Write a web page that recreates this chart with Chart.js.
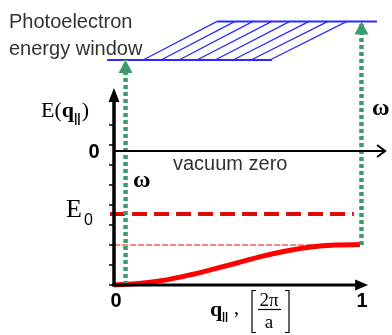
<!DOCTYPE html>
<html>
<head>
<meta charset="utf-8">
<script src="https://cdn.jsdelivr.net/npm/chart.js@4"></script>
<style>
  html, body { margin: 0; padding: 0; background: #fff; }
  #wrap { width: 392px; height: 335px; position: relative; }
</style>
</head>
<body>
<div id="wrap"><canvas id="chart"></canvas></div>
<script>
// energies: vacuum zero = 0, one unit = one y-axis tick step
const bandQ = [0, 0.1, 0.2, 0.3, 0.4, 0.5, 0.6, 0.7, 0.8, 0.9, 1.0]
const bandE = [-6.7, -6.62, -6.47, -6.22, -5.92, -5.6, -5.27, -5.0, -4.8, -4.7, -4.68]
const vacuumZero = 0
const e0Level = -3.15
const bandTop = -4.7
const bandBottom = -6.7
const windowLow = 4.55
const windowHigh = 6.48
const windowLowQ = [-0.028, 0.642]
const windowHighQ = [0.419, 1.069]
const hatchLowQ = [0.118, 0.191, 0.264, 0.337, 0.411, 0.484, 0.557, 0.634]
const hatchHighQ = [0.419, 0.492, 0.565, 0.642, 0.715, 0.793, 0.870, 0.947]
const photonQ = [0.047, 1.006]
const photonFrom = [bandBottom, bandTop]
const photonTo = [windowLow, windowHigh]
const yTicks = [-6.7, -5.7, -4.7, -3.7, -2.7, -1.7, -0.7, 0.3, 1.3]
const xTicks = [0, 1]
const xTickLabels = ["0", "1"]

const green = "#3a9c6c"
const blue = "#2a2aff"

const line = (pts, color, width, dash) => ({
  data: pts,
  borderColor: color,
  borderWidth: width,
  borderDash: dash || [],
  borderCapStyle: "butt",
  pointRadius: 0,
  fill: false,
  tension: 0
})

const datasets = []
// photon arrows (on top)
photonQ.forEach((q, i) => {
  datasets.push(line([{ x: q, y: photonFrom[i] }, { x: q, y: photonTo[i] }], green, 4.5, [4, 3]))
})
// band dispersion
const band = line(bandQ.map((q, i) => ({ x: q, y: bandE[i] })), "#ff0000", 5)
band.tension = 0.4
band.cubicInterpolationMode = "monotone"
datasets.push(band)
// E0 level and band top
datasets.push(line([{ x: -0.016, y: e0Level }, { x: 0.975, y: e0Level }], "#dd0a0a", 4, [15, 7]))
datasets.push(line([{ x: 0, y: bandTop }, { x: 0.99, y: bandTop }], "#ff5c5c", 1.5, [6, 2]))
// photoelectron energy window
datasets.push(line(windowLowQ.map(q => ({ x: q, y: windowLow })), blue, 2))
datasets.push(line(windowHighQ.map(q => ({ x: q, y: windowHigh })), blue, 2))
hatchLowQ.forEach((q, i) => {
  datasets.push(line([{ x: q, y: windowLow }, { x: hatchHighQ[i], y: windowHigh }], blue, 1.3))
})

const overlay = {
  id: "overlay",
  afterDatasetsDraw(chart) {
    const { ctx, scales: { x, y } } = chart
    const px = v => x.getPixelForValue(v)
    const py = v => y.getPixelForValue(v)
    ctx.save()

    // arrow heads of the photons
    ctx.fillStyle = green
    photonQ.forEach((q, i) => {
      const cx = px(q), tip = py(photonTo[i])
      ctx.beginPath()
      ctx.moveTo(cx, tip)
      ctx.lineTo(cx - 7, tip + 13)
      ctx.lineTo(cx + 7, tip + 13)
      ctx.closePath()
      ctx.fill()
    })

    const x0 = px(0), yb = py(bandBottom), yv = py(vacuumZero)
    ctx.strokeStyle = "#000"
    ctx.fillStyle = "#000"

    // y axis with arrow
    ctx.lineWidth = 3.5
    ctx.beginPath()
    ctx.moveTo(x0, yb + 1.5)
    ctx.lineTo(x0, py(2.6))
    ctx.stroke()
    ctx.beginPath()
    ctx.moveTo(x0, py(3.15))
    ctx.lineTo(x0 - 5.5, py(3.15) + 14)
    ctx.lineTo(x0 + 5.5, py(3.15) + 14)
    ctx.closePath()
    ctx.fill()

    // y ticks
    ctx.lineWidth = 1.5
    yTicks.forEach(t => {
      ctx.beginPath()
      ctx.moveTo(x0 - 5, py(t))
      ctx.lineTo(x0, py(t))
      ctx.stroke()
    })

    // q axis with arrow
    const xEnd = px(1.033)
    ctx.lineWidth = 3
    ctx.beginPath()
    ctx.moveTo(x0 - 1.5, yb)
    ctx.lineTo(xEnd - 10, yb)
    ctx.stroke()
    ctx.beginPath()
    ctx.moveTo(xEnd, yb)
    ctx.lineTo(xEnd - 13, yb - 5.5)
    ctx.lineTo(xEnd - 13, yb + 5.5)
    ctx.closePath()
    ctx.fill()

    // vacuum zero line with open arrow
    const vEnd = px(1.102)
    ctx.lineWidth = 2
    ctx.beginPath()
    ctx.moveTo(x0, yv)
    ctx.lineTo(vEnd, yv)
    ctx.stroke()
    ctx.beginPath()
    ctx.moveTo(vEnd - 8, yv - 6)
    ctx.lineTo(vEnd, yv)
    ctx.lineTo(vEnd - 8, yv + 6)
    ctx.stroke()

    // tick labels
    ctx.fillStyle = "#000"
    ctx.textAlign = "center"
    ctx.textBaseline = "middle"
    ctx.font = "bold 20px 'Liberation Sans', Arial, sans-serif"
    xTicks.forEach((t, i) => ctx.fillText(xTickLabels[i], px(t) + 2, yb + 16))
    ctx.fillText("0", 94, yv + 1)

    // text labels
    ctx.fillStyle = "#333"
    ctx.textAlign = "left"
    ctx.textBaseline = "alphabetic"
    ctx.font = "20px 'Liberation Sans', Arial, sans-serif"
    ctx.fillText("Photoelectron", 9, 28)
    ctx.fillText("energy window", 9, 55)
    ctx.fillText("vacuum zero", 173, 170)

    ctx.fillStyle = "#000"
    // E(q||)
    ctx.font = "22px 'Liberation Serif', 'Times New Roman', serif"
    ctx.fillText("E(", 41, 117)
    let w = ctx.measureText("E(").width
    ctx.font = "bold 22px 'Liberation Serif', serif"
    ctx.fillText("q", 41 + w, 117)
    w += ctx.measureText("q").width
    ctx.font = "bold 12px 'Liberation Sans', sans-serif"
    ctx.fillText("||", 41 + w, 122)
    w += ctx.measureText("||").width + 1
    ctx.font = "22px 'Liberation Serif', serif"
    ctx.fillText(")", 41 + w, 117)

    // E0
    ctx.font = "26px 'Liberation Serif', serif"
    ctx.fillText("E", 66, 217)
    ctx.font = "16px 'Liberation Sans', sans-serif"
    ctx.fillText("0", 84, 225)

    // omega labels
    ctx.font = "bold 24px 'Liberation Serif', serif"
    ctx.fillText("\u03c9", 133, 187)
    ctx.fillText("\u03c9", 372, 115)

    // q|| , [2pi/a]
    ctx.font = "bold 22px 'Liberation Serif', serif"
    ctx.fillText("q", 210, 316)
    ctx.font = "bold 11px 'Liberation Sans', sans-serif"
    ctx.fillText("||", 222, 320)
    ctx.font = "20px 'Liberation Serif', serif"
    ctx.fillText(",", 234, 314)
    ctx.textAlign = "center"
    ctx.font = "19px 'Liberation Serif', serif"
    ctx.fillText("2\u03c0", 269, 306)
    ctx.fillText("a", 269, 328)
    ctx.lineWidth = 1.2
    ctx.strokeStyle = "#000"
    ctx.beginPath()
    ctx.moveTo(258, 309.5)
    ctx.lineTo(281, 309.5)
    ctx.stroke()
    ctx.beginPath()
    ctx.moveTo(256, 290.5); ctx.lineTo(252, 290.5); ctx.lineTo(252, 332.5); ctx.lineTo(256, 332.5)
    ctx.moveTo(285, 290.5); ctx.lineTo(289, 290.5); ctx.lineTo(289, 332.5); ctx.lineTo(285, 332.5)
    ctx.stroke()

    ctx.restore()
  }
}

new Chart(document.getElementById("chart"), {
  type: "line",
  data: { datasets },
  options: {
    responsive: true,
    maintainAspectRatio: false,
    animation: false,
    parsing: true,
    layout: { padding: 0 },
    plugins: { legend: { display: false }, tooltip: { enabled: false } },
    scales: {
      x: { type: "linear", display: false, min: -0.4634, max: 1.1301 },
      y: { type: "linear", display: false, min: -9.2, max: 7.55 }
    }
  },
  plugins: [overlay]
})
</script>
</body>
</html>
